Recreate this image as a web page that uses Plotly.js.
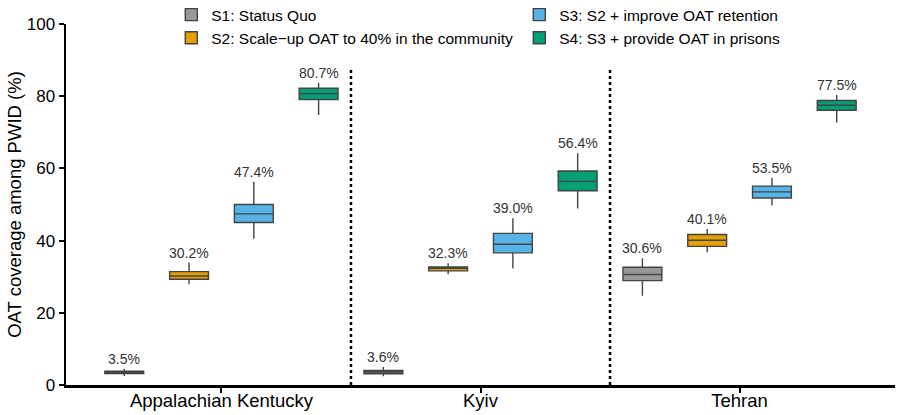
<!DOCTYPE html>
<html>
<head>
<meta charset="utf-8">
<script src="https://cdn.plot.ly/plotly-3.0.1.min.js"></script>
<style>
  html, body { margin: 0; padding: 0; background: #fff; }
  #chart { width: 900px; height: 415px; }
</style>
</head>
<body>
<div id="chart"></div>
<script>
// settings and cities
var cities = ['Appalachian Kentucky', 'Kyiv', 'Tehran'];
var scenarios = [
  'S1: Status Quo',
  'S2: Scale\u2212up OAT to 40% in the community',
  'S3: S2 + improve OAT retention',
  'S4: S3 + provide OAT in prisons'
];
var colors = ['#999999', '#E69F00', '#56B4E9', '#009E73'];

// box stats per scenario, one value per city
var medians = [
  [3.5, 3.6, 30.6],
  [30.2, 32.3, 40.1],
  [47.4, 39.0, 53.5],
  [80.7, 56.4, 77.5]
];
var q1 = [
  [3.2, 3.1, 28.9],
  [29.3, 31.6, 38.4],
  [45.0, 36.6, 51.8],
  [79.1, 53.8, 76.1]
];
var q3 = [
  [3.8, 4.0, 32.6],
  [31.4, 32.7, 41.7],
  [50.0, 42.0, 55.1],
  [82.2, 59.3, 78.8]
];
var lower = [
  [2.5, 2.4, 24.7],
  [27.9, 30.7, 36.8],
  [40.5, 32.3, 49.7],
  [74.8, 48.9, 72.7]
];
var upper = [
  [4.4, 5.0, 35.1],
  [33.9, 33.7, 43.2],
  [56.3, 46.2, 57.4],
  [83.7, 64.2, 80.3]
];
// legend reads S1, S3 on top row and S2, S4 below
var legendOrder = [1, 3, 2, 4];

var data = [];
var annotations = [];
for (var s = 0; s < scenarios.length; s++) {
  data.push({
    type: 'box',
    name: scenarios[s],
    x: cities,
    q1: q1[s],
    median: medians[s],
    q3: q3[s],
    lowerfence: lower[s],
    upperfence: upper[s],
    fillcolor: colors[s],
    line: {color: '#444444', width: 1.4},
    whiskerwidth: 0,
    legendrank: legendOrder[s],
    hoverinfo: 'skip'
  });
  for (var c = 0; c < cities.length; c++) {
    annotations.push({
      x: c + (s - 1.5) * 0.25,
      y: upper[s][c],
      xref: 'x', yref: 'y',
      text: medians[s][c].toFixed(1) + '%',
      showarrow: false,
      yanchor: 'bottom',
      yshift: 0,
      font: {family: 'Liberation Sans, Arial, sans-serif', size: 14, color: '#333333'}
    });
  }
}

// dotted separators between cities
var shapes = [0.5, 1.5].map(function (v) {
  return {
    type: 'line', xref: 'x', yref: 'y',
    x0: v, x1: v, y0: 0, y1: 88,
    line: {color: '#000000', width: 2.5, dash: 'dot'}
  };
});

var layout = {
  width: 900,
  height: 415,
  margin: {l: 66, r: 5, t: 24, b: 30, autoexpand: false},
  paper_bgcolor: '#ffffff',
  plot_bgcolor: '#ffffff',
  font: {family: 'Liberation Sans, Arial, sans-serif', color: '#000000'},
  boxmode: 'group',
  boxgap: 0,
  boxgroupgap: 0.4,
  showlegend: true,
  legend: {
    orientation: 'h',
    x: 0.127, y: 1.072,
    xanchor: 'left', yanchor: 'top',
    entrywidth: 303,
    entrywidthmode: 'pixels',
    font: {size: 15.5, color: '#000000'},
    bgcolor: 'rgba(255,255,255,0)'
  },
  xaxis: {
    type: 'category',
    range: [-0.6, 2.6],
    showline: true,
    linecolor: '#000000',
    linewidth: 2.5,
    ticks: 'outside',
    ticklen: 5,
    tickwidth: 2,
    tickcolor: '#000000',
    ticklabelstandoff: -8,
    showgrid: false,
    zeroline: false,
    tickfont: {size: 18.5, color: '#000000'}
  },
  yaxis: {
    range: [0, 100],
    tickvals: [0, 20, 40, 60, 80, 100],
    showline: true,
    linecolor: '#000000',
    linewidth: 2.5,
    ticks: 'outside',
    ticklen: 5,
    tickwidth: 2,
    tickcolor: '#000000',
    showgrid: false,
    zeroline: false,
    tickfont: {size: 17, color: '#000000'},
    title: {text: 'OAT coverage among PWID (%)', font: {size: 18.5, color: '#000000'}, standoff: 0}
  },
  shapes: shapes,
  annotations: annotations
};

Plotly.newPlot('chart', data, layout, {displayModeBar: false, staticPlot: true});
</script>
</body>
</html>
